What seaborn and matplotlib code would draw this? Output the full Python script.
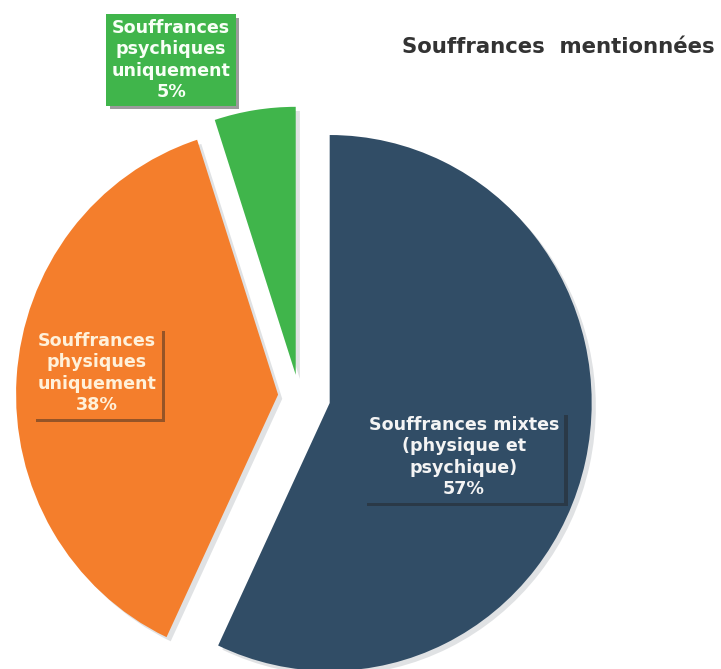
import matplotlib
matplotlib.use("Agg")
import matplotlib.pyplot as plt
import matplotlib.patheffects as pe
import seaborn as sns

# ---- data ----
categories = ["Souffrances mixtes\n(physique et\npsychique)",
              "Souffrances\nphysiques\nuniquement",
              "Souffrances\npsychiques\nuniquement"]
values = [57, 38, 5]
title = "Souffrances  mentionnées"

colors = ["#314D66", "#F47E2C", "#40B54B"]
text_colors = ["#F4F4F4", "#FFF1DA", "#F8FFF6"]

sns.set_theme(style="white")
plt.rcParams['font.family'] = ['DejaVu Sans']

W, H = 721, 669
fig = plt.figure(figsize=(W / 100, H / 100), dpi=100)
fig.patch.set_facecolor("white")
ax = fig.add_axes([0, 0, 1, 1])

RX_PX, RY_PX = 262.0, 268.0
CX, CY = 299.0, 396.0  # pie centre in pixels (from top-left)

def px(x, y):
    return (x - CX) / RX_PX, (CY - y) / RY_PX

wedges, _ = ax.pie(values, colors=colors, startangle=90, counterclock=False,
                   explode=[0.12, 0.08, 0.08], radius=1.0,
                   wedgeprops=dict(linewidth=0))
for w in wedges:
    w.set_path_effects([pe.SimplePatchShadow(offset=(3, -3), shadow_rgbFace="#9aa0a6", alpha=0.3),
                        pe.Normal()])

ax.set_xlim(-CX / RX_PX, (W - CX) / RX_PX)
ax.set_ylim(-(H - CY) / RY_PX, CY / RY_PX)
ax.set_aspect("auto")
ax.axis("off")

label_pos = [(464, 457), (97, 373), (171, 60)]
for cat, val, col, tcol, (lx, ly) in zip(categories, values, colors, text_colors, label_pos):
    x, y = px(lx, ly)
    t = ax.text(x, y, f"{cat}\n{val}%", ha="center", va="center",
                fontsize=12.6, fontweight="bold", color=tcol, linespacing=1.22,
                bbox=dict(boxstyle="square,pad=0.3", facecolor=col, edgecolor="none"))
    t.get_bbox_patch().set_path_effects([
        pe.SimplePatchShadow(offset=(2.5, -2.5), shadow_rgbFace="#222222", alpha=0.45),
        pe.Normal()])

tx, ty = px(402, 47)
ax.text(tx, ty, title, ha="left", va="center", fontsize=15.3, fontweight="bold",
        color="#333333")

fig.savefig("out.png", dpi=100, facecolor="white")
